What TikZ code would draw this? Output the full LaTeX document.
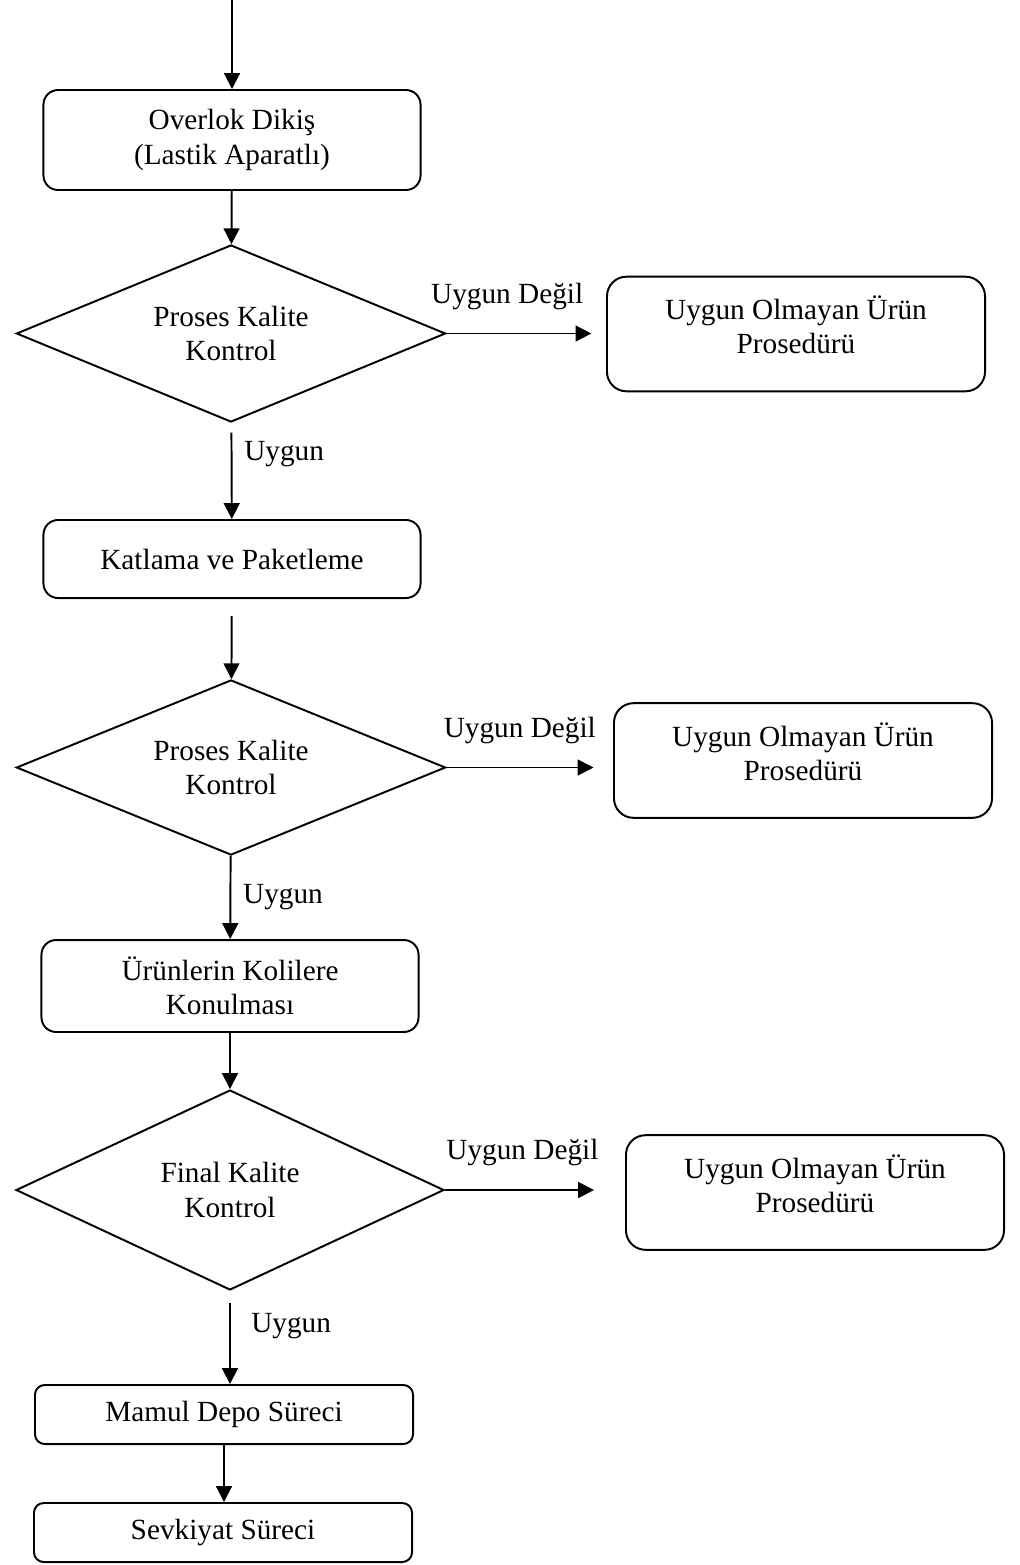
\documentclass[tikz,border=0pt]{standalone}
\usepackage{fontspec}
\setmainfont{Liberation Serif}
\usetikzlibrary{
  shapes.geometric,
  positioning,
  calc,
  arrows.meta
}

\tikzset{
  box/.style = {draw, rounded corners=6pt, align=center, minimum width=154.6pt},
  sidebox/.style = {draw, rounded corners=8pt, align=center, minimum width=155pt, minimum height=47pt},
  smallbox/.style = {draw, rounded corners=4pt, align=center, minimum width=155pt, minimum height=24.2pt},
  decision/.style = {draw, diamond, shape aspect=2.4, align=center, inner sep=0pt, minimum width=176pt, minimum height=72.6pt}
}
% extra depth so the text in the side boxes sits a little high
\newcommand{\lowpad}{\rule[-7.5pt]{0pt}{0pt}}

\begin{document}
\begin{tikzpicture}[x=0.41pt, y=-0.41pt, line width=0.8pt,
    >={Triangle[length=6.5pt,width=6.5pt]},
    font=\fontsize{12pt}{14pt}\selectfont]
    \useasboundingbox (0,0) rectangle (1020,1565);

    \coordinate (start) at (232,0);
    \node[box, minimum height=41pt] (overlok) at (232,140) {Overlok Dikiş\\(Lastik Aparatlı)};
    \node[decision] (kontrol1) at (231,333.5) {Proses Kalite\\Kontrol};
    \node[sidebox] (red1) at (796,334) {Uygun Olmayan Ürün\\Prosedürü\lowpad};
    \node[box, minimum height=32pt] (katlama) at (232,559) {Katlama ve Paketleme};
    \node[decision, minimum height=71.8pt] (kontrol2) at (231,767.5) {Proses Kalite\\Kontrol};
    \node[sidebox] (red2) at (803,760.5) {Uygun Olmayan Ürün\\Prosedürü\lowpad};
    \node[box, minimum height=37.7pt] (koli) at (230,986) {Ürünlerin Kolilere\\Konulması};
    \node[decision, minimum height=82pt, minimum width=175.5pt] (kontrol3) at (230,1190) {Final Kalite\\Kontrol};
    \node[sidebox] (red3) at (815,1192.5) {Uygun Olmayan Ürün\\Prosedürü\lowpad};
    \node[smallbox] (depo) at (224,1414.5) {Mamul Depo Süreci};
    \node[smallbox] (sevk) at (223,1532.5) {Sevkiyat Süreci};

    \draw[->] (start) -- (overlok);
    \draw[->] (overlok) -- (kontrol1);
    \draw[->, shorten >=6pt] (kontrol1.east) -- node[above=6pt, pos=0.38]{Uygun Değil} (kontrol1.east -| red1.west);
    \draw[->, shorten <=4pt] (kontrol1) -- node[right=1.5pt, pos=0.32]{Uygun} (katlama);
    \draw[->, shorten <=7pt] (katlama) -- (kontrol2);
    \draw[->, shorten >=8pt] (kontrol2.east) -- node[above=6pt, pos=0.44]{Uygun Değil} (kontrol2.east -| red2.west);
    \draw[->] (kontrol2) -- node[right=1.5pt, pos=0.49]{Uygun} (koli);
    \draw[->] (koli) -- (kontrol3);
    \draw[->, shorten >=12.7pt] (kontrol3.east) -- node[above=6pt, pos=0.43]{Uygun Değil} (kontrol3.east -| red3.west);
    \draw[->, shorten <=5pt] (kontrol3.south) -- node[right=5pt, pos=0.38]{Uygun} (kontrol3.south |- depo.north);
    \draw[->] (depo.south) -- (depo.south |- sevk.north);
\end{tikzpicture}
\end{document}
